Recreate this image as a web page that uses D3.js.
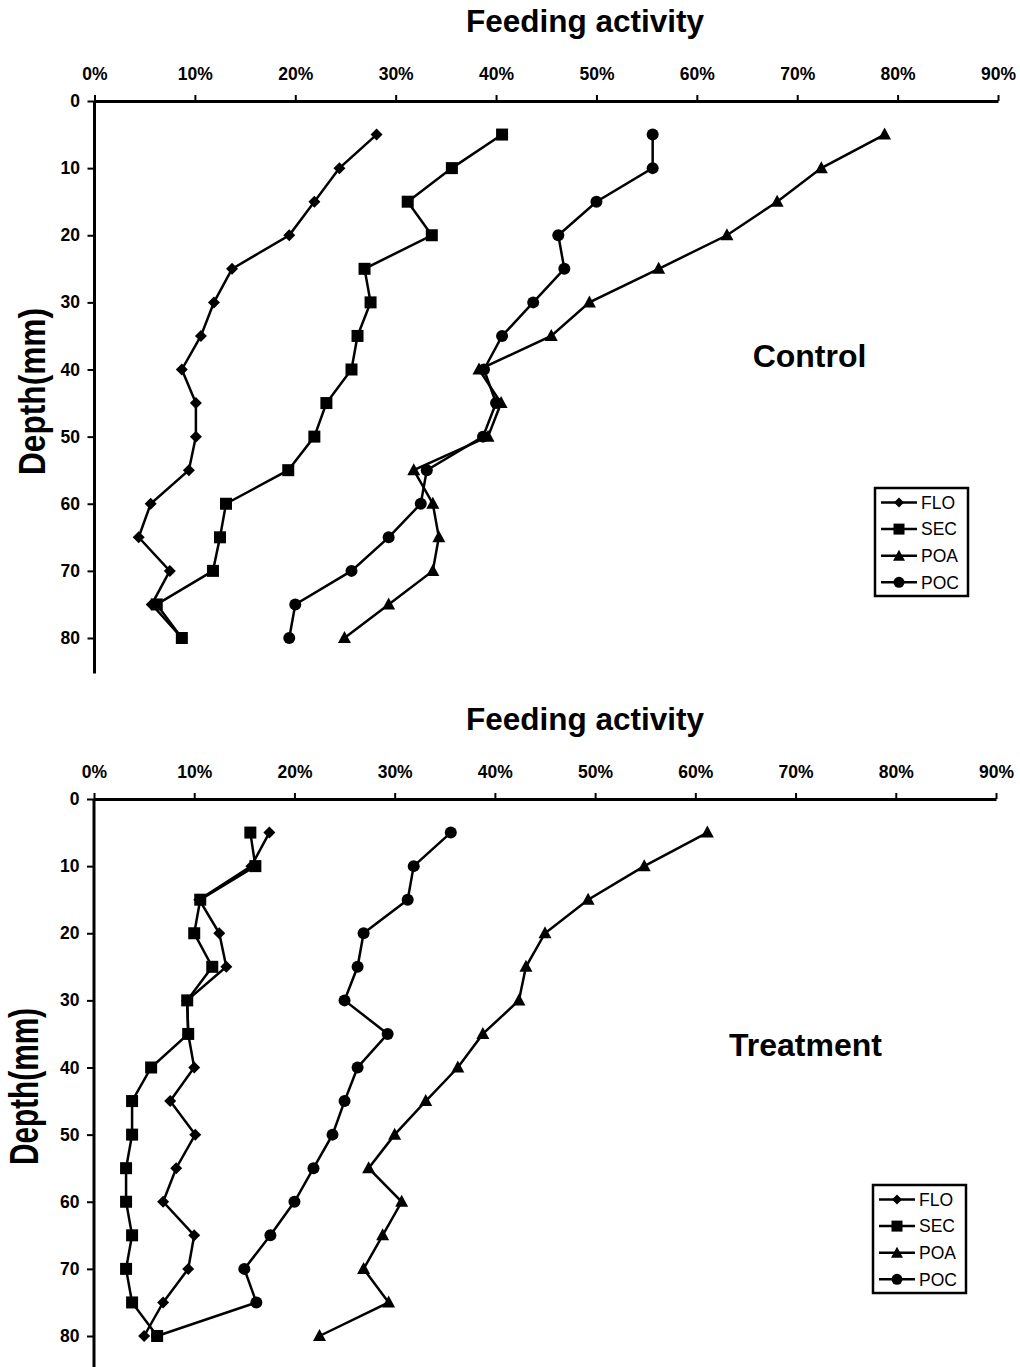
<!DOCTYPE html>
<html><head><meta charset="utf-8">
<script src="https://cdn.jsdelivr.net/npm/d3@7"></script>
<style>body{margin:0;background:#fff}svg{display:block}text{font-family:"Liberation Sans",Arial,Helvetica,sans-serif}</style>
</head><body><svg id="c" width="1020" height="1367"></svg>
<script>
const depths = [5,10,15,20,25,30,35,40,45,50,55,60,65,70,75,80];
const xTicks = [0,10,20,30,40,50,60,70,80,90];
const yTicks = [0,10,20,30,40,50,60,70,80];
const seriesNames = ["FLO","SEC","POA","POC"];
const seriesShapes = ["diamond","square","triangle","circle"];

// Control (%)
const ctrlFLO = [28.1,24.4,21.9,19.4,13.7,11.9,10.6,8.7,10.1,10.1,9.4,5.6,4.4,7.5,5.7,8.7];
const ctrlSEC = [40.6,35.6,31.2,33.6,26.9,27.5,26.2,25.6,23.1,21.9,19.3,13.1,12.5,11.8,6.2,8.7];
const ctrlPOA = [78.7,72.4,68.0,63.0,56.2,49.3,45.5,38.3,40.5,39.2,31.8,33.7,34.3,33.7,29.3,24.9];
const ctrlPOC = [55.6,55.6,50.0,46.2,46.8,43.7,40.6,38.8,40.0,38.7,33.1,32.5,29.3,25.6,20.0,19.4];

// Treatment (%)
const trtFLO = [17.5,15.7,10.5,12.5,13.2,9.3,9.4,10.0,7.6,10.1,8.2,6.9,10.0,9.4,6.9,5.0];
const trtSEC = [15.6,16.1,10.6,10.0,11.8,9.3,9.4,5.7,3.8,3.8,3.2,3.2,3.8,3.2,3.8,6.3];
const trtPOA = [61.2,54.9,49.3,45.0,43.1,42.4,38.8,36.3,33.1,30.0,27.4,30.7,28.8,26.9,29.4,22.5];
const trtPOC = [35.6,31.9,31.3,26.9,26.3,25.0,29.3,26.3,25.0,23.8,21.9,20.0,17.6,15.0,16.2,6.3];

const panels = [
  {label:"Control", series:[ctrlFLO,ctrlSEC,ctrlPOA,ctrlPOC], top:101, x0:94.5, x1:998, titleY:32, labelX:809.5, labelY:367, legX:875, legY:488,
   yl:{x:45, cy:391.5, size:36.5, len:167}},
  {label:"Treatment", series:[trtFLO,trtSEC,trtPOA,trtPOC], top:799, x0:94, x1:996, titleY:730, labelX:805.5, labelY:1056, legX:873, legY:1185,
   yl:{x:38, cy:1086.5, size:40, len:157}}
];

const svg = d3.select("#c");
const font = '"Liberation Sans",Arial,Helvetica,sans-serif';

function marker(g, shape, x, y){
  if(shape==="diamond"){
    g.append("path").attr("d",`M${x},${y-6}L${x+6},${y}L${x},${y+6}L${x-6},${y}Z`).attr("fill","#000");
  } else if(shape==="square"){
    g.append("rect").attr("x",x-6).attr("y",y-6).attr("width",12).attr("height",12).attr("fill","#000");
  } else if(shape==="triangle"){
    g.append("path").attr("d",`M${x},${y-7}L${x+6.5},${y+5}L${x-6.5},${y+5}Z`).attr("fill","#000");
  } else {
    g.append("circle").attr("cx",x).attr("cy",y).attr("r",6).attr("fill","#000");
  }
}

panels.forEach(p=>{
  const x = d3.scaleLinear().domain([0,90]).range([p.x0,p.x1]);
  const y = d3.scaleLinear().domain([0,80]).range([p.top,p.top+537]);
  const g = svg.append("g");

  // title
  g.append("text").attr("x",585).attr("y",p.titleY).attr("text-anchor","middle")
    .attr("font-size",31.5).attr("font-weight","bold").text("Feeding activity");

  // x axis (top)
  const xa = g.append("g").attr("transform",`translate(0,${p.top})`)
    .call(d3.axisTop(x).tickValues(xTicks).tickFormat(d=>d+"%").tickSize(6).tickSizeOuter(0));
  xa.select(".domain").attr("stroke-width",3);
  xa.selectAll(".tick line").attr("stroke-width",2);
  xa.selectAll(".tick text").attr("font-size",17.5).attr("font-weight","bold").attr("font-family",font).attr("dy","0").attr("y",-21);

  // y axis
  const ya = g.append("g").attr("transform",`translate(${p.x0},0)`)
    .call(d3.axisLeft(y).tickValues(yTicks).tickSize(7).tickSizeOuter(0));
  ya.select(".domain").remove();
  g.append("line").attr("x1",p.x0).attr("x2",p.x0).attr("y1",p.top).attr("y2",y(85.3))
    .attr("stroke","#000").attr("stroke-width",3);
  ya.selectAll(".tick line").attr("stroke-width",2);
  ya.selectAll(".tick text").attr("font-size",17.5).attr("font-weight","bold").attr("font-family",font).attr("x",-14.5);

  // y label
  g.append("text").attr("transform",`translate(${p.yl.x},${p.yl.cy}) rotate(-90)`).attr("text-anchor","middle")
    .attr("font-size",p.yl.size).attr("font-weight","bold")
    .attr("textLength",p.yl.len).attr("lengthAdjust","spacingAndGlyphs").text("Depth(mm)");

  // series
  const line = d3.line().x(d=>x(d[0])).y(d=>y(d[1]));
  p.series.forEach((vals,i)=>{
    const pts = vals.map((v,j)=>[v,depths[j]]);
    g.append("path").datum(pts).attr("d",line).attr("fill","none").attr("stroke","#000").attr("stroke-width",2.5);
  });
  p.series.forEach((vals,i)=>{
    vals.forEach((v,j)=>marker(g, seriesShapes[i], x(v), y(depths[j])));
  });

  // panel label
  g.append("text").attr("x",p.labelX).attr("y",p.labelY).attr("text-anchor","middle")
    .attr("font-size",32).attr("font-weight","bold").text(p.label);

  // legend
  const lg = g.append("g").attr("transform",`translate(${p.legX},${p.legY})`);
  lg.append("rect").attr("x",0).attr("y",0).attr("width",93).attr("height",108)
    .attr("fill","#fff").attr("stroke","#000").attr("stroke-width",2.5);
  seriesNames.forEach((n,i)=>{
    const yy = 14.5 + i*26.6;
    lg.append("line").attr("x1",6).attr("x2",42).attr("y1",yy).attr("y2",yy).attr("stroke","#000").attr("stroke-width",2.5);
    const mg = lg.append("g");
    if(seriesShapes[i]==="diamond") mg.append("path").attr("d",`M24,${yy-5}L29,${yy}L24,${yy+5}L19,${yy}Z`);
    else if(seriesShapes[i]==="square") mg.append("rect").attr("x",18.5).attr("y",yy-5.5).attr("width",11).attr("height",11);
    else if(seriesShapes[i]==="triangle") mg.append("path").attr("d",`M24,${yy-6}L30,${yy+5}L18,${yy+5}Z`);
    else mg.append("circle").attr("cx",24).attr("cy",yy).attr("r",5.5);
    lg.append("text").attr("x",46).attr("y",yy+6.3).attr("font-size",17.5).text(n);
  });
});
</script></body></html>
